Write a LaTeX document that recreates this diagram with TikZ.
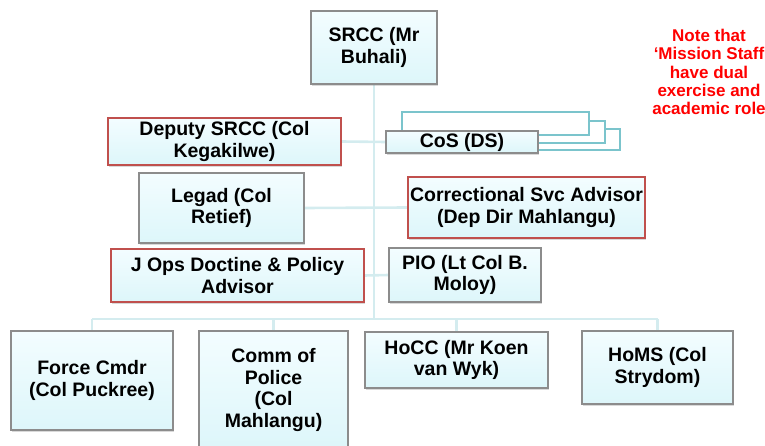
\documentclass[tikz,border=0pt]{standalone}
\usepackage{fontspec}
\setmainfont{Liberation Sans}
\usetikzlibrary{shadows,backgrounds}

\definecolor{linkblue}{HTML}{D4ECEF}
\definecolor{stackteal}{HTML}{7BC4CC}
\definecolor{boxtop}{HTML}{F3FDFF}
\definecolor{boxbottom}{HTML}{DDF6FA}
\definecolor{boxgray}{HTML}{8C8C8C}
\definecolor{boxred}{HTML}{C0504D}
\definecolor{notered}{HTML}{FF0000}

\begin{document}
\begin{tikzpicture}[x=1pt, y=-1pt,
	every node/.style={font=\fontsize{19.5}{21.5}\selectfont\bfseries, align=center, inner sep=0pt},
	post/.style={draw=boxgray, line width=1.1pt, top color=boxtop, bottom color=boxbottom,
		drop shadow={shadow xshift=0.6pt, shadow yshift=-1.6pt, opacity=0.3}},
	advisor/.style={post, draw=boxred},
	link/.style={draw=linkblue, line width=2.6pt},
	stack/.style={draw=stackteal, line width=1.8pt, fill=white}]

\useasboundingbox (0,0) rectangle (765,446);
\clip (0,0) rectangle (765,446);

% Top of the tree
\node[post, minimum width=126, minimum height=73] (srcc) at (374,47.5) {SRCC (Mr\\Buhali)};

% Staff rows
\node[advisor, minimum width=233, minimum height=47] (deputy) at (224.5,141.5) {Deputy SRCC (Col\\Kegakilwe)};
\node[post, minimum width=152, minimum height=22] (cos) at (462,142) {CoS (DS)};
\node[post, minimum width=165, minimum height=70] (legad) at (221.5,208) {Legad (Col\\Retief)};
\node[advisor, minimum width=237, minimum height=61] (corr) at (526.5,207.5) {Correctional Svc Advisor\\(Dep Dir Mahlangu)};
\node[advisor, minimum width=253, minimum height=53] (jops) at (237.5,275.5) {J Ops Doctine \& Policy\\Advisor};
\node[post, minimum width=152, minimum height=54] (pio) at (465,275) {PIO (Lt Col B.\\Moloy)};

% Bottom row
\node[post, minimum width=162, minimum height=99] (force) at (92,380.5) {Force Cmdr\\(Col Puckree)};
\node[post, minimum width=149, minimum height=118] (comm) at (273.5,390) {Comm of\\Police\\(Col\\Mahlangu)};
\node[post, minimum width=183, minimum height=56] (hocc) at (456.5,360) {HoCC (Mr Koen\\van Wyk)};
\node[post, minimum width=151, minimum height=73] (homs) at (657.5,367.5) {HoMS (Col\\Strydom)};

% Side note
\node[font=\fontsize{17}{18.3}\selectfont\bfseries, text=notered] (note) at (709,72)
	{Note that\\‘Mission Staff\\have dual\\exercise and\\academic role};

\coordinate (bus) at (374,319);

\begin{scope}[on background layer]
	\draw[link] (srcc.south) -- (bus);
	\draw[link] (deputy.east) -- (cos.west);
	\draw[link] (legad.east) -- (corr.west);
	\draw[link] (jops.east) -- (pio.west);
	\draw[link] (force.north |- bus) -- (homs.north |- bus);
	\foreach \n in {force,comm,hocc,homs} {
		\draw[link] (\n.north |- bus) -- (\n.north);
	}
	% stacked frames behind CoS
	\draw[stack] (418,129) rectangle (620,150);
	\draw[stack] (410,121) rectangle (605,143);
	\draw[stack] (402,112) rectangle (589,135);
\end{scope}

\end{tikzpicture}
\end{document}
